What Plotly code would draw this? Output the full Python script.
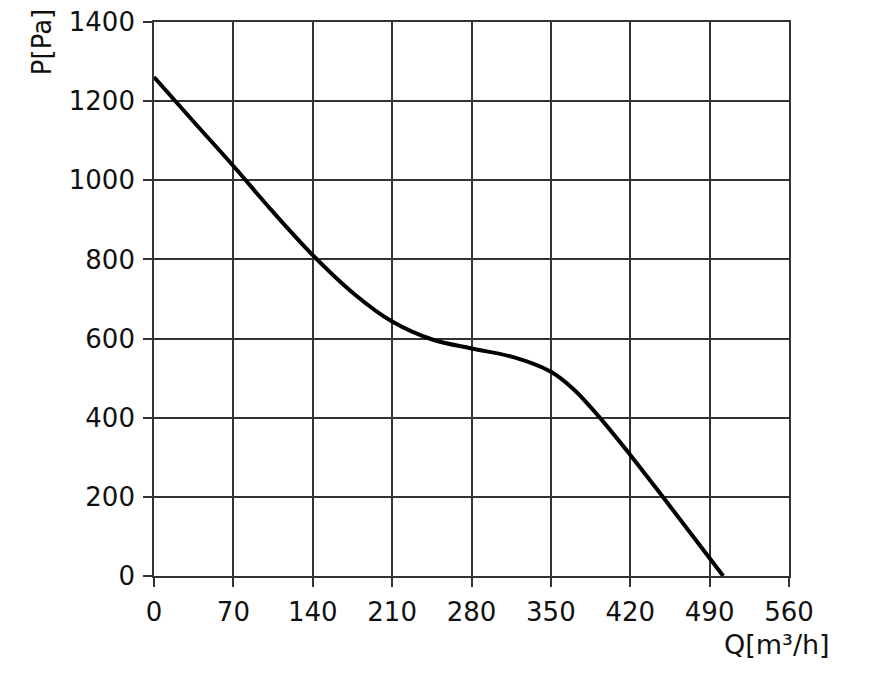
import plotly.graph_objects as go

# Data
q_values = [0, 35, 70, 105, 140, 176, 210, 246, 280, 317, 350, 370, 392, 420, 449, 502]
p_values = [1261, 1148, 1036, 920, 811, 714, 643, 597, 575, 553, 516, 472, 404, 306, 199, 0]

x_ticks = [0, 70, 140, 210, 280, 350, 420, 490, 560]
y_ticks = [0, 200, 400, 600, 800, 1000, 1200, 1400]

grid_col = "#333333"
font_family = "DejaVu Sans, Verdana, sans-serif"
txt_col = "#111111"

fig = go.Figure()
fig.add_trace(go.Scatter(
    x=q_values, y=p_values, mode="lines",
    line=dict(color="black", width=4, shape="spline", smoothing=1.0),
    hoverinfo="skip", showlegend=False,
))

axis_common = dict(
    showgrid=True, gridcolor=grid_col, gridwidth=1.7,
    zeroline=False, showline=True, linecolor=grid_col, linewidth=1.7, mirror=True,
    ticks="outside", ticklen=9, tickwidth=1.7, tickcolor=grid_col,
    ticklabelstandoff=3, ticklabeloverflow="allow", automargin=False,
    tickfont=dict(family=font_family, size=26, color=txt_col),
)

fig.update_xaxes(range=[0, 560], tickvals=x_ticks, ticktext=[str(v) for v in x_ticks], **axis_common)
fig.update_yaxes(range=[0, 1400], tickvals=y_ticks, ticktext=[str(v) for v in y_ticks], **axis_common)

fig.update_layout(
    width=875, height=673,
    margin=dict(l=146, r=94, t=14, b=105, autoexpand=False),
    paper_bgcolor="white", plot_bgcolor="white",
    font=dict(family=font_family, color=txt_col),
    annotations=[
        dict(text="P[Pa]", xref="paper", yref="paper", x=-0.176, y=0.964,
             xanchor="center", yanchor="middle", textangle=-90, showarrow=False,
             font=dict(family=font_family, size=26, color=txt_col)),
        dict(text="Q[m³/h]", xref="paper", yref="paper", x=0.981, y=-0.1245,
             xanchor="center", yanchor="middle", showarrow=False,
             font=dict(family=font_family, size=27, color=txt_col)),
    ],
)

fig.write_html("out.html")
